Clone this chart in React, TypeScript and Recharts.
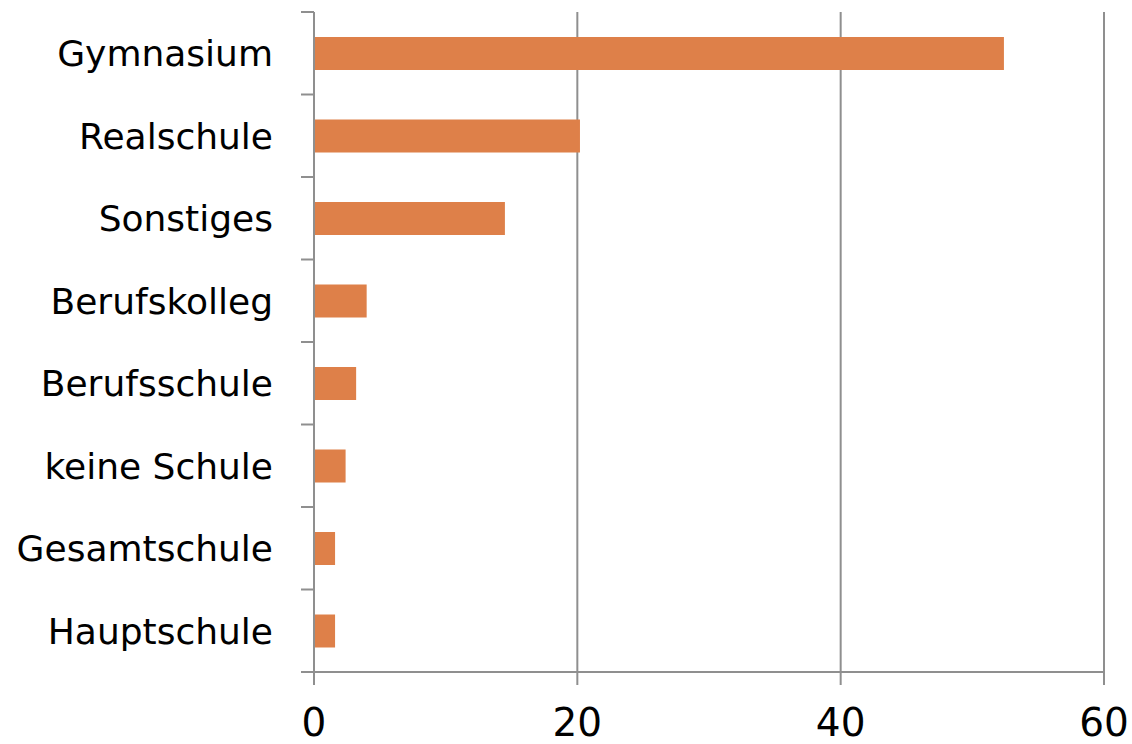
import React from 'react';
import { BarChart, Bar, XAxis, YAxis, CartesianGrid } from 'recharts';

const schools = [
  'Gymnasium',
  'Realschule',
  'Sonstiges',
  'Berufskolleg',
  'Berufsschule',
  'keine Schule',
  'Gesamtschule',
  'Hauptschule',
];
const shares = [52.4, 20.2, 14.5, 4.0, 3.2, 2.4, 1.6, 1.6];
const xTicks = [0, 20, 40, 60];

const data = schools.map((name, i) => ({ name, value: shares[i] }));

const W = 1132;
const H = 744;
const TOP = 12;
const X_AXIS_H = 72;
const TICK_SIZE = 13;
const TICK_MARGIN = 28;
const GRAY = '#8f8f8f';
const FONT = '"DejaVu Sans", sans-serif';
const band = (H - TOP - X_AXIS_H) / schools.length;

// category label at band centre, tick mark at the band's upper boundary (and bottom for the last one)
const SchoolTick = (props: any) => {
  const { x, y, payload, index } = props;
  const lx1 = x + TICK_MARGIN;
  const lx2 = lx1 + TICK_SIZE;
  return (
    <g>
      <line x1={lx1} x2={lx2} y1={y - band / 2} y2={y - band / 2} stroke={GRAY} strokeWidth={2} />
      {index === schools.length - 1 && (
        <line x1={lx1} x2={lx2} y1={y + band / 2} y2={y + band / 2} stroke={GRAY} strokeWidth={2} />
      )}
      <text x={x} y={y} dy="0.36em" textAnchor="end" fill="#000" fontSize={36} fontFamily={FONT}>
        {payload.value}
      </text>
    </g>
  );
};

export default function App() {
  return (
    <div style={{ position: 'absolute', left: 0, top: 0, width: W, height: H, background: '#fff' }}>
      <BarChart
        width={W}
        height={H}
        data={data}
        layout="vertical"
        margin={{ top: TOP, right: 28, bottom: 0, left: 0 }}
        barCategoryGap="60%"
      >
        <CartesianGrid horizontal={false} stroke={GRAY} strokeWidth={2} strokeDasharray="" />
        <XAxis
          type="number"
          domain={[0, 60]}
          ticks={xTicks}
          height={X_AXIS_H}
          tickSize={TICK_SIZE}
          tickMargin={23}
          axisLine={{ stroke: GRAY, strokeWidth: 2 }}
          tickLine={{ stroke: GRAY, strokeWidth: 2 }}
          tick={{ fill: '#000', fontSize: 39, fontFamily: FONT }}
        />
        <YAxis
          type="category"
          dataKey="name"
          width={314}
          tickSize={TICK_SIZE}
          tickMargin={TICK_MARGIN}
          axisLine={{ stroke: GRAY, strokeWidth: 2 }}
          tickLine={false}
          tick={<SchoolTick />}
          interval={0}
        />
        <Bar dataKey="value" fill="#de8049" barSize={33} isAnimationActive={false} />
      </BarChart>
    </div>
  );
}
